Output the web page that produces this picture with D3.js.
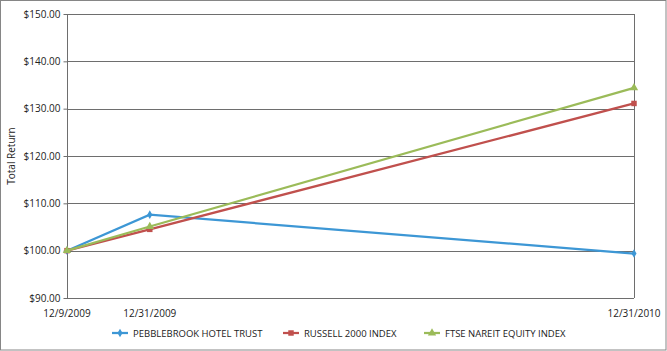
<!DOCTYPE html>
<html lang="en">
<head>
<meta charset="UTF-8">
<title>Total Return</title>
<style>
  * { margin: 0; padding: 0; }
  html, body { overflow: hidden; background: #fff; }
  text { font-family: "Open Sans", "Noto Sans", sans-serif; fill: #222; }
</style>
</head>
<body>
<div id="chart"></div>
<script src="https://cdn.jsdelivr.net/npm/d3@7"></script>
<script>
  const dates = ['12/9/2009', '12/31/2009', '12/31/2010']
  // position of each date along the axis, as the source chart spaces them
  const datePos = [0, 0.146, 1]
  const seriesNames = ['PEBBLEBROOK HOTEL TRUST', 'RUSSELL 2000 INDEX', 'FTSE NAREIT EQUITY INDEX']
  const pebblebrook = [100, 107.6, 99.4]
  const russell = [100, 104.5, 131.1]
  const ftse = [100, 105.1, 134.4]
  const yTicks = [90, 100, 110, 120, 130, 140, 150]
  const colors = ['#3d97d5', '#c0504d', '#9bbb59']

  function drawChart() {
    const width = 667
    const height = 351
    const margin = { top: 14, right: 33, bottom: 53, left: 67 }

    const svg = d3.select('#chart').append('svg')
      .attr('width', width)
      .attr('height', height)

    svg.append('rect')
      .attr('x', 0.5).attr('y', 0.5)
      .attr('width', width - 1.5).attr('height', height - 1.5)
      .attr('fill', '#fff')
      .attr('stroke', '#868686')

    const x = d3.scaleLinear().domain([0, 1]).range([margin.left, width - margin.right])
    const y = d3.scaleLinear().domain([90, 150]).range([height - margin.bottom, margin.top])

    // gridlines
    svg.append('g')
      .selectAll('line')
      .data(yTicks)
      .join('line')
      .attr('x1', x(0)).attr('x2', x(1))
      .attr('y1', d => Math.round(y(d)) + 0.5)
      .attr('y2', d => Math.round(y(d)) + 0.5)
      .attr('stroke', '#6e6e6e')

    // y axis
    const yAxis = svg.append('g')
      .attr('transform', `translate(${x(0) + 0.5},0)`)
      .call(d3.axisLeft(y).tickValues(yTicks).tickSize(4).tickPadding(3)
        .tickFormat(d => '$' + d3.format('.2f')(d)))
    yAxis.select('.domain').attr('stroke', '#6e6e6e').attr('d', `M0,${y(150)}V${y(90)}`)
    yAxis.selectAll('.tick line').attr('stroke', '#6e6e6e')
    yAxis.selectAll('.tick text').attr('font-size', 10).attr('fill', '#222')
      .attr('font-family', '"Open Sans", sans-serif')

    // right border line of the plot
    svg.append('line')
      .attr('x1', x(1) + 0.5).attr('x2', x(1) + 0.5)
      .attr('y1', y(150)).attr('y2', y(90))
      .attr('stroke', '#6e6e6e')

    // x labels
    svg.append('g')
      .selectAll('text')
      .data(dates)
      .join('text')
      .attr('x', (d, i) => x(datePos[i]))
      .attr('y', y(90) + 19)
      .attr('text-anchor', 'middle')
      .attr('font-size', 10)
      .text(d => d)

    // y title
    svg.append('text')
      .attr('transform', `translate(15,${(y(150) + y(90)) / 2}) rotate(-90)`)
      .attr('text-anchor', 'middle')
      .attr('font-size', 10)
      .text('Total Return')

    const series = [pebblebrook, russell, ftse]
    const symbols = [d3.symbolDiamond, d3.symbolSquare, d3.symbolTriangle]
    const symSizes = [22, 30, 30]
    const line = d3.line().x((d, i) => x(datePos[i])).y(d => y(d))

    series.forEach((vals, s) => {
      const g = svg.append('g')
      g.append('path')
        .datum(vals)
        .attr('d', line)
        .attr('fill', 'none')
        .attr('stroke', colors[s])
        .attr('stroke-width', 2.25)
      g.selectAll('path.pt')
        .data(vals)
        .join('path')
        .attr('class', 'pt')
        .attr('transform', (d, i) => `translate(${x(datePos[i])},${y(d)})`)
        .attr('d', d3.symbol(symbols[s], symSizes[s]))
        .attr('fill', colors[s])
    })

    // legend
    const legendX = [112, 283, 424]
    const legendY = 333
    const legend = svg.append('g')
      .selectAll('g')
      .data(seriesNames)
      .join('g')
      .attr('transform', (d, i) => `translate(${legendX[i]},${legendY})`)
    legend.append('line')
      .attr('x1', 0).attr('x2', 16)
      .attr('stroke', (d, i) => colors[i])
      .attr('stroke-width', 2.25)
    legend.append('path')
      .attr('transform', 'translate(8,0)')
      .attr('d', (d, i) => d3.symbol(symbols[i], symSizes[i])())
      .attr('fill', (d, i) => colors[i])
    legend.append('text')
      .attr('x', 21)
      .attr('y', 3.5)
      .attr('font-family', 'Roboto, sans-serif')
      .attr('font-size', 9.5)
      .text(d => d)
  }

  drawChart()
</script>
</body>
</html>
